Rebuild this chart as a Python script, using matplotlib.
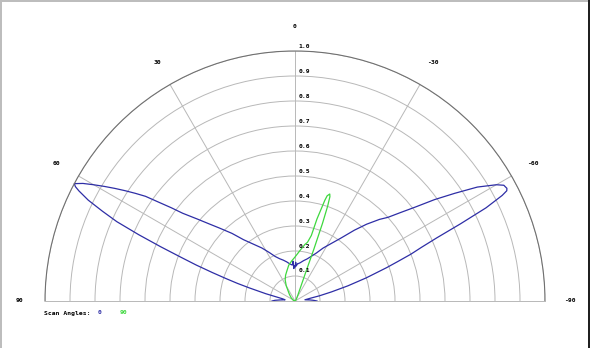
import numpy as np
import matplotlib
matplotlib.use("Agg")
import matplotlib.pyplot as plt
from matplotlib.patches import Rectangle

# scan angle 0 (blue): angle in degrees, positive to the left
blue_deg = [90, 88, 86, 83, 80, 78, 76, 74, 73, 72, 71, 70, 69, 68, 67, 66, 65, 64, 63, 62.5, 62,
            61, 60, 59, 58, 57, 56, 55, 54, 53, 52, 50, 48, 46, 43, 40, 36, 32, 28, 24, 20, 16, 12,
            8, 5, 4, 3, 2, 1, 0, -1, -2, -3, -4, -5, -8, -12, -16, -20, -24, -28, -32, -36, -40,
            -43, -46, -48, -50, -52, -54, -56, -58, -60, -61, -62, -62.5, -63, -64, -65, -66, -67,
            -68, -69, -70, -72, -74, -76, -78, -80, -83, -86, -88, -90]
blue_r = [0.092, 0.08, 0.06, 0.04, 0.05, 0.07, 0.12, 0.19, 0.24, 0.29, 0.35, 0.42, 0.49, 0.58, 0.68,
          0.78, 0.85, 0.92, 0.97, 0.99, 1.0,
          0.97, 0.93, 0.89, 0.85, 0.81, 0.77, 0.73, 0.67, 0.62, 0.57, 0.51, 0.46, 0.42, 0.37, 0.32,
          0.28, 0.25, 0.22, 0.195, 0.18, 0.17, 0.16,
          0.15, 0.145, 0.145, 0.16, 0.13, 0.14, 0.135, 0.155, 0.14, 0.145, 0.15, 0.15, 0.155, 0.165,
          0.175, 0.19, 0.21, 0.24, 0.27, 0.31, 0.37,
          0.42, 0.47, 0.5, 0.55, 0.61, 0.69, 0.77, 0.86, 0.93, 0.955, 0.96, 0.955, 0.93, 0.85, 0.73,
          0.62, 0.55,
          0.5, 0.44, 0.39, 0.3, 0.22, 0.15, 0.1, 0.06, 0.04, 0.06, 0.075, 0.088]

# scan angle 90 (green)
green_deg = [90, 75, 60, 50, 40, 30, 25, 20, 15, 10, 5, 0, -6, -10, -12, -14, -15, -16.5, -17, -18,
             -18.5, -19, -19.5, -20, -20.5, -22, -25, -30, -45, -90]
green_r = [0.0, 0.005, 0.01, 0.02, 0.035, 0.07, 0.093, 0.11, 0.125, 0.145, 0.16, 0.176, 0.205, 0.23,
           0.24, 0.27, 0.34, 0.42, 0.44, 0.45,
           0.44, 0.40, 0.33, 0.22, 0.12, 0.06, 0.03, 0.015, 0.005, 0.0]

ring_vals = [0.1, 0.2, 0.3, 0.4, 0.5, 0.6, 0.7, 0.8, 0.9, 1.0]
angle_ticks = [-90, -60, -30, 0, 30, 60, 90]

blue = '#2e2ea6'
green = '#3ed83e'
grid_c = '#b8b8b8'
font = 'DejaVu Sans Mono'

W, H = 590, 348
fig = plt.figure(figsize=(W / 100, H / 100), dpi=100)
cx, cy, R = 295, 301, 250
# polar axes keeps a square box; the half disc sits centred in it
box_top = cy - R / 2 - R
ax = fig.add_axes([(cx - R) / W, (H - (box_top + 2 * R)) / H, 2 * R / W, 2 * R / H],
                  projection='polar')
ax.set_theta_zero_location('N')
ax.set_theta_direction(1)
ax.set_thetamin(-90)
ax.set_thetamax(90)
ax.set_ylim(0, 1.0)

ax.set_rgrids(ring_vals, labels=[''] * len(ring_vals))
ax.set_thetagrids(angle_ticks, labels=[''] * len(angle_ticks))
ax.grid(True, color=grid_c, lw=0.7)
ax.spines['polar'].set_color('#707070')
ax.spines['polar'].set_linewidth(0.8)
ax.spines['start'].set_color(grid_c)
ax.spines['end'].set_color(grid_c)
ax.spines['start'].set_linewidth(0.7)
ax.spines['end'].set_linewidth(0.7)
ax.tick_params(length=0)

ax.plot(np.deg2rad(blue_deg), blue_r, color=blue, lw=0.9, clip_on=False)
ax.plot(np.deg2rad(green_deg), green_r, color=green, lw=0.9, clip_on=False)

for v in ring_vals:
    ax.annotate('%.1f' % v, xy=(0, v), xytext=(2.5, 3.6), textcoords='offset points',
                ha='left', va='center', fontsize=4.6, family=font, fontweight='bold')
for a in angle_ticks:
    ax.text(np.deg2rad(a), 1.1, str(a), ha='center', va='center', fontsize=4.6,
            family=font, fontweight='bold', clip_on=False)

# legend row
fig.text(44 / W, 1 - 313 / H, 'Scan Angles:', ha='left', va='center', fontsize=4.6,
         family=font, fontweight='bold')
fig.text(100 / W, 1 - 313 / H, '0', ha='center', va='center', fontsize=4.6,
         family=font, fontweight='bold', color=blue)
fig.text(123 / W, 1 - 313 / H, '90', ha='center', va='center', fontsize=4.6,
         family=font, fontweight='bold', color=green)

# window frame
fig.add_artist(Rectangle((0, 1 - 1.5 / H), 1, 1.5 / H, transform=fig.transFigure, color='#bdbdbd', lw=0))
fig.add_artist(Rectangle((0, 0), 1.5 / W, 1, transform=fig.transFigure, color='#bdbdbd', lw=0))
fig.add_artist(Rectangle((1 - 2.5 / W, 0), 2.5 / W, 1, transform=fig.transFigure, color='#202020', lw=0))

fig.savefig('out.png', dpi=100)
